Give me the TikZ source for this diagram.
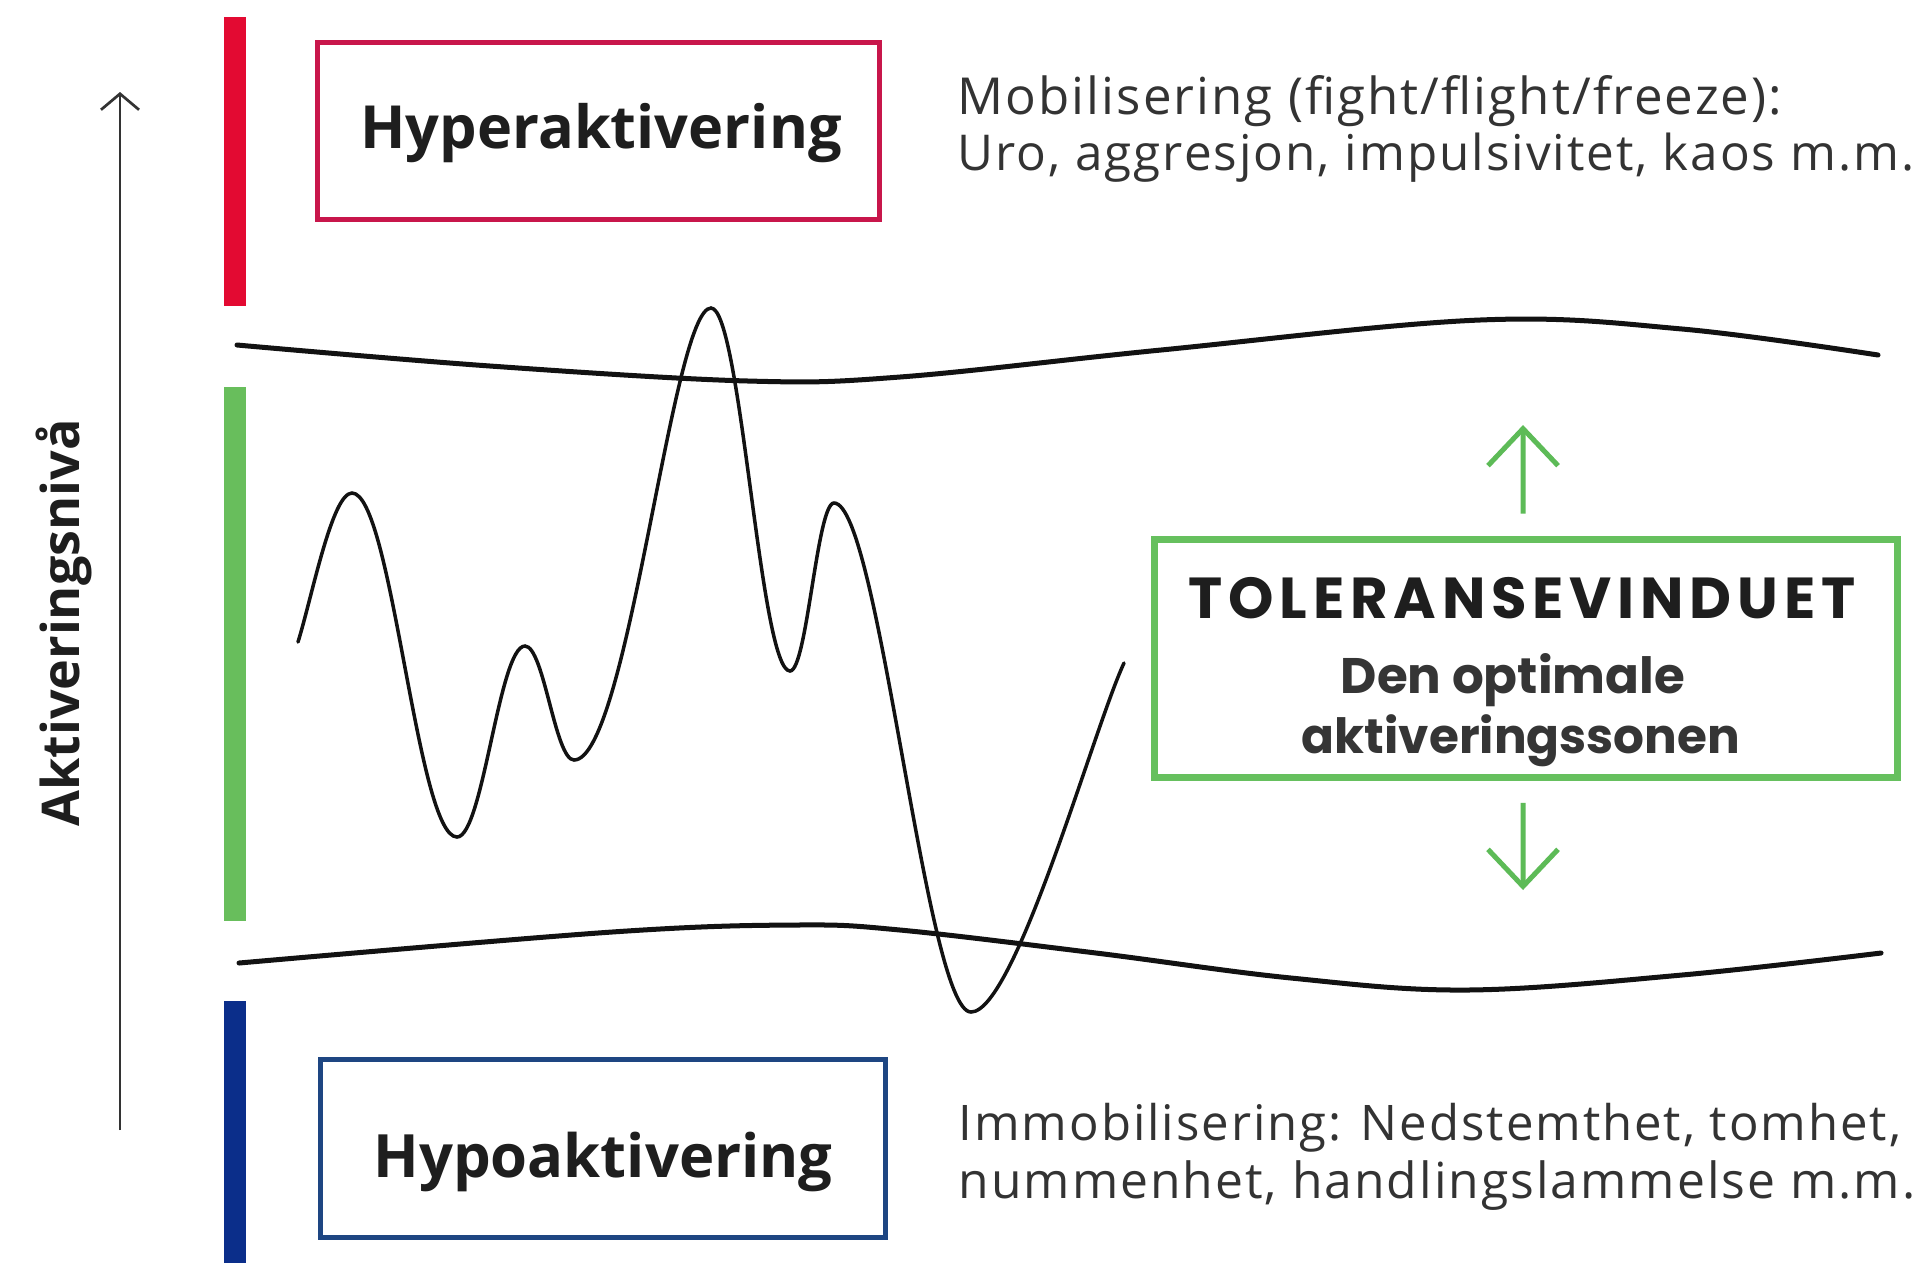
\documentclass[tikz,border=0pt]{standalone}
\usepackage{fontspec}
\usepackage{graphicx}
\setmainfont{Open Sans}
\newfontfamily\bodyfont{Open Sans}[LetterSpace=4]
\newfontfamily\geosub{Poppins}
\newfontfamily\geols{Poppins}[LetterSpace=10]
\usetikzlibrary{arrows.meta}
\definecolor{redbar}{HTML}{E30A32}
\definecolor{redbox}{HTML}{C8164B}
\definecolor{greenbar}{HTML}{68BE5C}
\definecolor{greenbox}{HTML}{66C05E}
\definecolor{garrowc}{HTML}{5DBB57}
\definecolor{bluebar}{HTML}{0B2E8A}
\definecolor{bluebox}{HTML}{1E4682}
\definecolor{txt}{HTML}{1E1E1E}
\definecolor{bodytxt}{HTML}{333333}
\newcommand{\fitw}[2]{\resizebox{#1}{!}{#2}}
\begin{document}
\begin{tikzpicture}[x=0.01cm,y=-0.01cm,
  bar/.style={fill=#1},
  zonebox/.style={draw=#1, line width=0.055cm, inner sep=0pt, fill=white},
  boxlabel/.style={anchor=base, inner sep=0pt, text=txt, font=\bfseries},
  bodyline/.style={anchor=base west, inner sep=0pt, text=bodytxt, font=\bodyfont},
  geolabel/.style={anchor=base, inner sep=0pt, text=txt!90, font=\geosub\bfseries},
  bound/.style={draw=black!93, line width=0.05cm, line cap=round},
  wave/.style={draw=black!93, line width=0.035cm, line cap=round},
  axisline/.style={draw=black!80, line width=0.027cm, -{Straight Barb[length=0.16cm,width=0.38cm]}},
  garrow/.style={draw=garrowc, line width=0.05cm, -{Straight Barb[length=0.37cm,width=0.7cm]}}
]
\useasboundingbox (0,0) rectangle (1922,1263);
\fill[white] (0,0) rectangle (1922,1263);

% coloured bars
\fill[bar=redbar] (224,17) rectangle (246,306);
\fill[bar=greenbar] (224,387) rectangle (246,921);
\fill[bar=bluebar] (224,1001) rectangle (246,1263);

% axis
\coordinate (axbot) at (120,1130);
\coordinate (axtop) at (120,92);
\draw[axisline] (axbot) -- (axtop);
\node[rotate=90, anchor=base, inner sep=0pt, text=txt, font=\bfseries] (axlabel) at (80,623) {\fitw{4.07cm}{Aktiveringsnivå}};

% boundary curves
\draw[bound] plot[smooth, tension=0.6] coordinates {(237,345) (490,366) (748,381) (900,377) (1161,350) (1480,320) (1682,329) (1878,355)};
\draw[bound] plot[smooth, tension=0.6] coordinates {(239,963) (612,932) (796,925) (900,930) (1096,953) (1291,978) (1467,990) (1682,975) (1881,953)};

% activation wave
\draw[wave] (298,642) .. controls (312,597) and (332,493) .. (352,493)
 .. controls (392,493) and (417,837) .. (457,837)
 .. controls (483,837) and (499,646) .. (525,646)
 .. controls (544,646) and (555,760) .. (574,760)
 .. controls (628,760) and (672,308) .. (711,308)
 .. controls (741,308) and (760,671) .. (790,671)
 .. controls (807,671) and (817,503) .. (834,503)
 .. controls (879,503) and (926,1012) .. (971,1012)
 .. controls (1015,1012) and (1094,727) .. (1124,663);

% hyper box
\node[zonebox=redbox, minimum width=5.62cm, minimum height=1.77cm] (hyperbox) at (598.5,131) {};
\node[boxlabel] (hypertxt) at (601,148) {\fitw{4.81cm}{Hyperaktivering}};

% hypo box
\node[zonebox=bluebox, minimum width=5.65cm, minimum height=1.78cm] (hypobox) at (603,1148.5) {};
\node[boxlabel] (hypotxt) at (603,1177) {\fitw{4.59cm}{Hypoaktivering}};

% body texts
\node[bodyline] (mob1) at (957,114) {\fitw{8.24cm}{Mobilisering (fight/flight/freeze):}};
\node[bodyline] (mob2) at (957,170) {\fitw{9.56cm}{Uro, aggresjon, impulsivitet, kaos m.m.}};
\node[bodyline] (imm1) at (958,1140) {\fitw{9.42cm}{Immobilisering: Nedstemthet, tomhet,}};
\node[bodyline] (imm2) at (958,1198) {\fitw{9.56cm}{nummenhet, handlingslammelse m.m.}};

% tolerance window box
\node[zonebox=greenbox, line width=0.065cm, minimum width=7.43cm, minimum height=2.38cm] (tol) at (1526,658.5) {};
\node[anchor=base, inner sep=0pt, text=txt, font=\geols\bfseries] (toltitle) at (1522,618) {\fitw{6.66cm}{TOLERANSEVINDUET}};
\node[geolabel] (tolsub1) at (1513,693) {\fitw{3.44cm}{Den optimale}};
\node[geolabel] (tolsub2) at (1521,753) {\fitw{4.38cm}{aktiveringssonen}};

% green arrows
\coordinate (uptip) at (1523,425);
\coordinate (downtip) at (1523,890);
\draw[garrow] ([xshift=-0.03cm,yshift=0.225cm]tol.north) -- (uptip);
\draw[garrow] ([xshift=-0.03cm,yshift=-0.22cm]tol.south) -- (downtip);
\end{tikzpicture}
\end{document}
